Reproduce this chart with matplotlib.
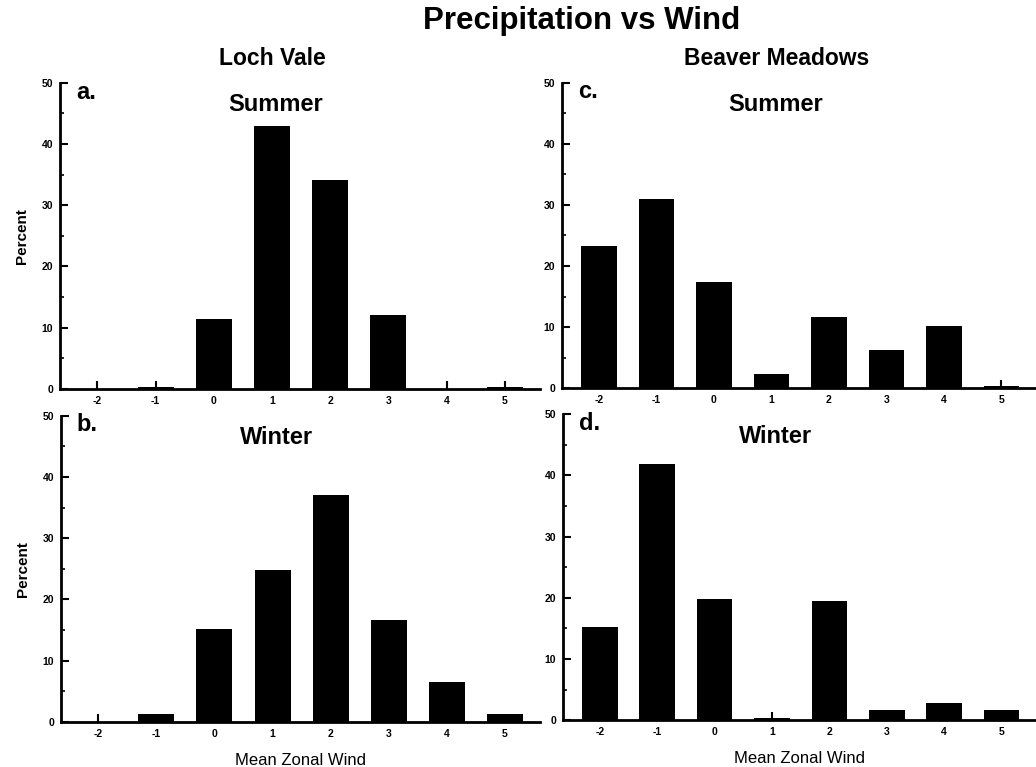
# Precipitation vs Wind: four-panel bar chart
import numpy as np
import matplotlib
matplotlib.use("Agg")
import matplotlib.pyplot as plt
from matplotlib.ticker import MultipleLocator

plt.rcParams['font.family'] = ['Liberation Sans', 'DejaVu Sans']
plt.rcParams['axes.unicode_minus'] = False

wind = [-2, -1, 0, 1, 2, 3, 4, 5]
loch_summer = [0, 0.3, 11.4, 42.9, 34.2, 12.1, 0, 0.3]
loch_winter = [0, 1.3, 15.1, 24.8, 37.0, 16.7, 6.5, 1.2]
beaver_summer = [23.3, 31.0, 17.4, 2.3, 11.7, 6.3, 10.2, 0.3]
beaver_winter = [15.2, 41.8, 19.8, 0.3, 19.5, 1.6, 2.8, 1.7]

fig = plt.figure(figsize=(10.36, 7.67), dpi=100)

# [left, bottom, width, height] in figure fraction
boxes = {
    'a': [0.058, 0.493, 0.463, 0.399],
    'b': [0.059, 0.059, 0.462, 0.399],
    'c': [0.5425, 0.494, 0.4575, 0.398],
    'd': [0.5435, 0.061, 0.4565, 0.399],
}
panels = [
    ('a', loch_summer, 'Summer', True, False),
    ('b', loch_winter, 'Winter', True, True),
    ('c', beaver_summer, 'Summer', False, False),
    ('d', beaver_winter, 'Winter', False, True),
]

for key, vals, season, left_col, bottom_row in panels:
    ax = fig.add_axes(boxes[key])
    ax.bar(wind, vals, width=0.62, color='black', edgecolor='none')
    ax.set_xlim(-2.64, 5.6)
    ax.set_ylim(0, 50)
    ax.set_xticks(wind)
    ax.set_yticks([0, 10, 20, 30, 40, 50])
    ax.yaxis.set_minor_locator(MultipleLocator(5))
    for s in ['top', 'right']:
        ax.spines[s].set_visible(False)
    for s in ['left', 'bottom']:
        ax.spines[s].set_linewidth(2)
    ax.tick_params(axis='both', which='major', direction='in', length=6, width=1.5,
                   labelsize=7.5, pad=5)
    ax.tick_params(axis='y', which='minor', direction='in', length=3, width=1.2)
    for lab in ax.get_xticklabels() + ax.get_yticklabels():
        lab.set_fontweight('bold')
    ax.text(0.033, 0.97, key + '.', transform=ax.transAxes, fontsize=17,
            fontweight='bold', ha='left', va='center')
    ax.text(0.45, 0.928, season, transform=ax.transAxes, fontsize=17,
            fontweight='bold', ha='center', va='center')
    if left_col:
        ax.set_ylabel('Percent', fontsize=11, fontweight='bold', labelpad=9)
    if bottom_row:
        ax.set_xlabel('Mean Zonal Wind', fontsize=12, labelpad=10)

fig.text(0.561, 0.973, 'Precipitation vs Wind', fontsize=22.5, fontweight='bold',
         ha='center', va='center')
fig.text(0.263, 0.924, 'Loch Vale', fontsize=16.5, fontweight='bold', ha='center', va='center')
fig.text(0.75, 0.924, 'Beaver Meadows', fontsize=16.5, fontweight='bold', ha='center', va='center')

fig.savefig('out.png', dpi=100)
